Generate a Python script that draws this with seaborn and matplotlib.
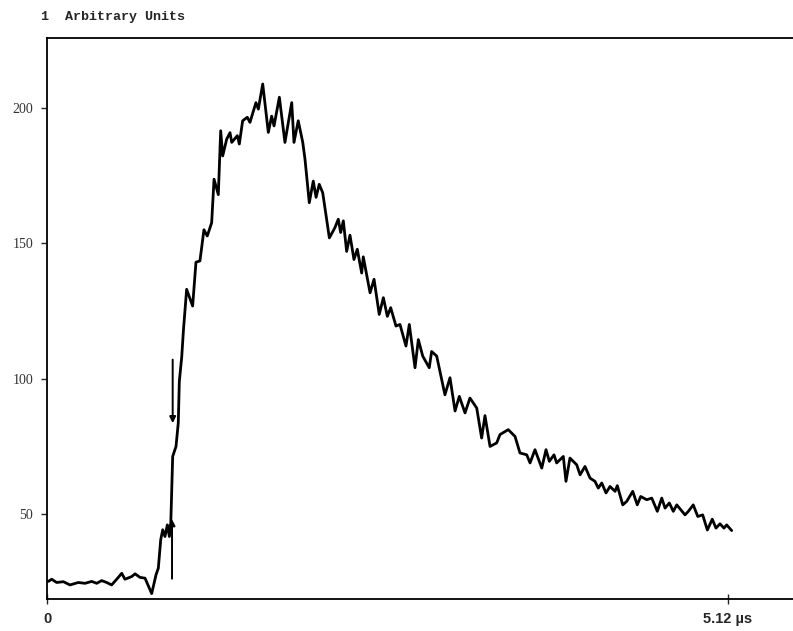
import matplotlib
matplotlib.use("Agg")
import matplotlib.pyplot as plt
import seaborn as sns
import pandas as pd

# ---- data (time in microseconds, signal in arbitrary units) ----
time_us = [0.010, 0.035, 0.073, 0.123, 0.173, 0.235, 0.286, 0.336, 0.374, 0.411,
           0.449, 0.486, 0.524, 0.562, 0.586, 0.637, 0.662, 0.699, 0.737, 0.787,
           0.820, 0.837, 0.855, 0.870, 0.887, 0.905, 0.920, 0.930, 0.945, 0.970,
           0.987, 0.995, 1.013, 1.026, 1.050, 1.095, 1.120, 1.150, 1.180, 1.205,
           1.238, 1.256, 1.288, 1.306, 1.321, 1.351, 1.376, 1.389, 1.431, 1.446,
           1.471, 1.506, 1.526, 1.571, 1.589, 1.622, 1.664, 1.689, 1.707, 1.747,
           1.789, 1.840, 1.857, 1.889, 1.923, 1.940, 1.972, 2.002, 2.023, 2.047,
           2.073, 2.123, 2.165, 2.190, 2.208, 2.228, 2.253, 2.278, 2.308, 2.333,
           2.366, 2.378, 2.429, 2.459, 2.498, 2.529, 2.559, 2.584, 2.624, 2.654,
           2.699, 2.724, 2.767, 2.792, 2.825, 2.874, 2.892, 2.930, 2.992, 3.030,
           3.068, 3.100, 3.143, 3.180, 3.231, 3.268, 3.293, 3.331, 3.381, 3.406,
           3.468, 3.519, 3.556, 3.607, 3.632, 3.669, 3.720, 3.752, 3.777, 3.812,
           3.832, 3.882, 3.902, 3.932, 3.983, 4.008, 4.045, 4.083, 4.120, 4.145,
           4.171, 4.203, 4.233, 4.271, 4.288, 4.329, 4.359, 4.404, 4.438, 4.464,
           4.509, 4.547, 4.589, 4.622, 4.647, 4.679, 4.709, 4.735, 4.797, 4.822,
           4.859, 4.893, 4.930, 4.965, 5.002, 5.030, 5.060, 5.090, 5.110, 5.148]

signal = [25.0, 25.8, 24.6, 24.9, 23.7, 24.6, 24.3, 25.0, 24.3, 25.3,
          24.6, 23.7, 25.8, 28.0, 25.8, 26.8, 27.8, 26.5, 26.2, 20.5,
          27.5, 29.9, 40.4, 44.1, 41.6, 45.9, 41.6, 45.3, 71.2, 74.9,
          83.6, 99.0, 108.0, 118.0, 133.0, 126.8, 143.0, 143.5, 155.0, 152.7,
          157.6, 173.7, 168.0, 191.6, 182.3, 188.5, 190.9, 187.3, 189.8, 186.7,
          195.3, 196.6, 194.7, 202.0, 199.6, 208.9, 191.0, 197.0, 193.4, 204.0,
          187.3, 202.0, 187.3, 195.3, 187.3, 181.0, 165.0, 173.0, 167.0, 171.8,
          168.7, 152.0, 155.8, 158.9, 154.0, 158.3, 147.0, 153.0, 144.0, 147.8,
          139.0, 145.0, 131.7, 136.7, 123.7, 129.9, 123.0, 126.2, 119.4, 120.0,
          112.0, 120.0, 104.0, 114.4, 108.3, 104.0, 110.0, 108.3, 94.0, 100.3,
          88.0, 93.4, 87.3, 92.8, 89.1, 78.0, 86.3, 74.9, 76.2, 79.3,
          81.1, 78.6, 72.5, 71.8, 68.8, 73.7, 66.9, 73.7, 69.4, 71.8,
          68.8, 71.2, 62.0, 70.6, 68.1, 64.4, 67.5, 63.2, 62.0, 59.5,
          61.4, 57.7, 60.1, 58.3, 60.4, 53.3, 54.6, 58.3, 53.3, 56.4,
          55.2, 55.8, 50.9, 55.8, 52.1, 54.0, 50.9, 53.3, 49.6, 50.9,
          53.3, 49.0, 49.6, 44.0, 48.0, 44.7, 46.3, 44.7, 45.9, 43.8]

y_ticks = [50, 100, 150, 200]
x_ticks = [0, 5.12]
x_tick_labels = ["0", "5.12 \u00b5s"]
title_text = "1  Arbitrary Units"

# arrows marking the onset (time, start value, end value)
arrow_times = [0.945, 0.940]
arrow_start = [107.0, 26.0]
arrow_end = [83.5, 48.0]

df = pd.DataFrame({"t": time_us, "v": signal})

sns.set_style("white")
fig = plt.figure(figsize=(7.93, 6.31), dpi=100)
ax = fig.add_axes([47 / 793, 32 / 631, 1 - 47 / 793, (599 - 38) / 631])

sns.lineplot(data=df, x="t", y="v", color="black", linewidth=2.0,
             sort=False, estimator=None, ax=ax)

for t, a, b in zip(arrow_times, arrow_start, arrow_end):
    ax.annotate("", xy=(t, b), xytext=(t, a),
                arrowprops=dict(arrowstyle="-|>", color="black", lw=1.4,
                                mutation_scale=9, shrinkA=0, shrinkB=0))

ax.set_xlim(0, 5.609)
ax.set_ylim(18.5, 225.9)
ax.set_xlabel("")
ax.set_ylabel("")

ax.set_yticks(y_ticks)
ax.set_yticklabels([str(v) for v in y_ticks], fontfamily="Liberation Serif",
                   fontsize=10, color="#333333")
ax.set_xticks(x_ticks)
ax.set_xticklabels(x_tick_labels, fontfamily="Liberation Sans",
                   fontsize=10.5, fontweight="bold")
ax.tick_params(axis="y", direction="out", length=4, width=1.0, pad=6,
               left=True)
ax.tick_params(axis="x", direction="inout", length=7, width=1.0, pad=6,
               bottom=True)

for side in ["left", "bottom", "top"]:
    ax.spines[side].set_visible(True)
    ax.spines[side].set_color("black")
    ax.spines[side].set_linewidth(1.3)
ax.spines["right"].set_visible(False)

fig.text(41 / 793, 1 - 17 / 631, title_text, fontfamily="Liberation Mono",
         fontsize=9.6, fontweight="bold", va="center", ha="left")

fig.savefig("out.png", dpi=100)
